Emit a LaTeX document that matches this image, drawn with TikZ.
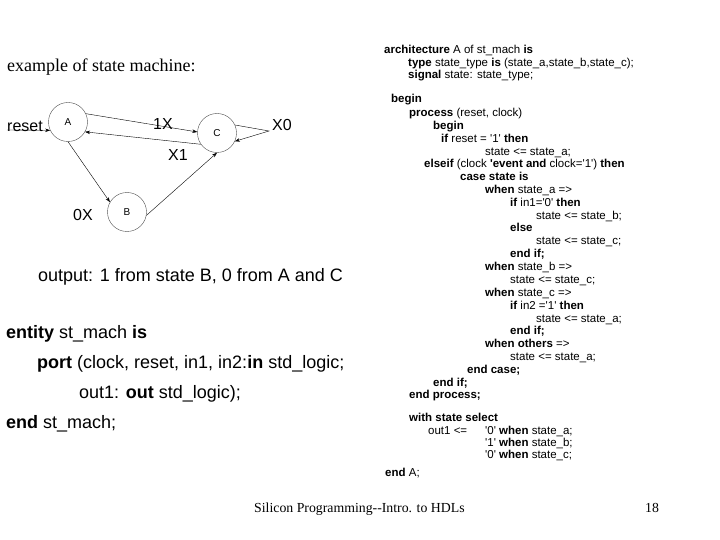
\documentclass[tikz,border=0pt]{standalone}
\usepackage{fontspec}
\setmainfont{Liberation Sans}
\newfontfamily\timesfont{Liberation Serif}
\usetikzlibrary{arrows.meta}
\newcommand{\sq}{\textquotesingle}

\begin{document}
\begin{tikzpicture}[x=1pt, y=-1pt, >={Stealth[length=5pt,width=3.5pt]}, line width=0.4pt]
	\tikzstyle{state}=[draw=black!70, circle, minimum size=39pt, inner sep=0pt, font=\fontsize{10}{12}\selectfont]
	\tikzstyle{trans}=[->, draw=black]
	\tikzstyle{lbl}=[anchor=base west, inner sep=0pt, font=\fontsize{16}{19}\selectfont]
	\tikzstyle{big}=[anchor=base west, inner sep=0pt, font=\fontsize{18}{21}\selectfont]
	\tikzstyle{code}=[anchor=base west, inner sep=0pt, font=\fontsize{11.5}{13}\selectfont]
	\tikzstyle{serif}=[anchor=base west, inner sep=0pt]
	\useasboundingbox (0,0) rectangle (720,540);

	% state diagram
	\node[serif, font=\timesfont\fontsize{18}{21}\selectfont] (title) at (7,72) {example of state machine:};
	\node[state] (A) at (68,122) {A};
	\node[state] (B) at (127,212) {B};
	\node[state] (C) at (217,133) {C};
	\node[lbl] (reset) at (7,132) {reset};
	\node[lbl] (l1x) at (153,130) {1X};
	\node[lbl] (lx1) at (168,161) {X1};
	\node[lbl] (lx0) at (272,131) {X0};
	\node[lbl] (l0x) at (73,221) {0X};
	\coordinate (rin) at (7,130);
	\coordinate (loopc) at (269,131);

	\draw[trans] (rin) -- (A.-155);
	\draw[trans] (A.25) -- (C.177);
	\draw[trans] (C.215) -- (A.-30);
	\draw[trans] (C.24) -- (loopc) -- (C.-25);
	\draw[trans] (A.south) -- (B.150);
	\draw[trans] (B.-10) -- (C.south);

	\node[big] (output) at (38,281) {output: 1 from state B, 0 from A and C};

	% entity
	\node[big] (e1) at (6,338) {\textbf{entity} st\_mach \textbf{is}};
	\node[big] (e2) at (37,368) {\textbf{port} (clock, reset, in1, in2:\textbf{in} std\_logic;};
	\node[big] (e3) at (79,398) {out1: \textbf{out} std\_logic);};
	\node[big] (e4) at (6,428) {\textbf{end} st\_mach;};

	% architecture
	\node[code] (a1) at (384,54) {\textbf{architecture} A of st\_mach \textbf{is}};
	\node[code] (a2) at (408,66.5) {\textbf{type} state\_type \textbf{is} (state\_a,state\_b,state\_c);};
	\node[code] (a3) at (408,79) {\textbf{signal} state: state\_type;};
	\node[code] (a4) at (391,103) {\textbf{begin}};
	\node[code] (a5) at (409,117) {\textbf{process} (reset, clock)};
	\node[code] (a6) at (433,130) {\textbf{begin}};
	\node[code] (a7) at (441,142.5) {\textbf{if} reset = \sq1\sq{} \textbf{then}};
	\node[code] (a8) at (485,155.5) {state <= state\_a;};
	\node[code] (a9) at (424,168) {\textbf{elseif} (clock \textbf{\sq event and} clock=\sq1\sq) \textbf{then}};
	\node[code] (a10) at (460,181) {\textbf{case state is}};
	\node[code] (a11) at (485,194) {\textbf{when} state\_a =>};
	\node[code] (a12) at (510,206.5) {\textbf{if} in1=\sq0\sq{} \textbf{then}};
	\node[code] (a13) at (536,219) {state <= state\_b;};
	\node[code] (a14) at (510,232) {\textbf{else}};
	\node[code] (a15) at (536,244.5) {state <= state\_c;};
	\node[code] (a16) at (510,257) {\textbf{end if;}};
	\node[code] (a17) at (485,270) {\textbf{when} state\_b =>};
	\node[code] (a18) at (510,283) {state <= state\_c;};
	\node[code] (a19) at (485,296) {\textbf{when} state\_c =>};
	\node[code] (a20) at (510,309) {\textbf{if} in2 =\sq1\sq{} \textbf{then}};
	\node[code] (a21) at (536,322) {state <= state\_a;};
	\node[code] (a22) at (510,334.5) {\textbf{end if;}};
	\node[code] (a23) at (485,347.5) {\textbf{when others} =>};
	\node[code] (a24) at (510,360) {state <= state\_a;};
	\node[code] (a25) at (467,373) {\textbf{end case;}};
	\node[code] (a26) at (433,386) {\textbf{end if;}};
	\node[code] (a27) at (409,398.5) {\textbf{end process;}};
	\node[code] (a28) at (409,421) {\textbf{with state select}};
	\node[code] (a29) at (428,434) {out1 <=};
	\node[code] (a30) at (485,434) {\sq0\sq{} \textbf{when} state\_a;};
	\node[code] (a31) at (485,446) {\sq1\sq{} \textbf{when} state\_b;};
	\node[code] (a32) at (485,458.5) {\sq0\sq{} \textbf{when} state\_c;};
	\node[code] (a33) at (385,476) {\textbf{end} A;};

	% footer
	\node[serif, font=\timesfont\fontsize{13.8}{16}\selectfont] (foot) at (254,512) {Silicon Programming-{}-Intro. to HDLs};
	\node[serif, font=\timesfont\fontsize{13.8}{16}\selectfont] (page) at (645,512) {18};
\end{tikzpicture}
\end{document}
